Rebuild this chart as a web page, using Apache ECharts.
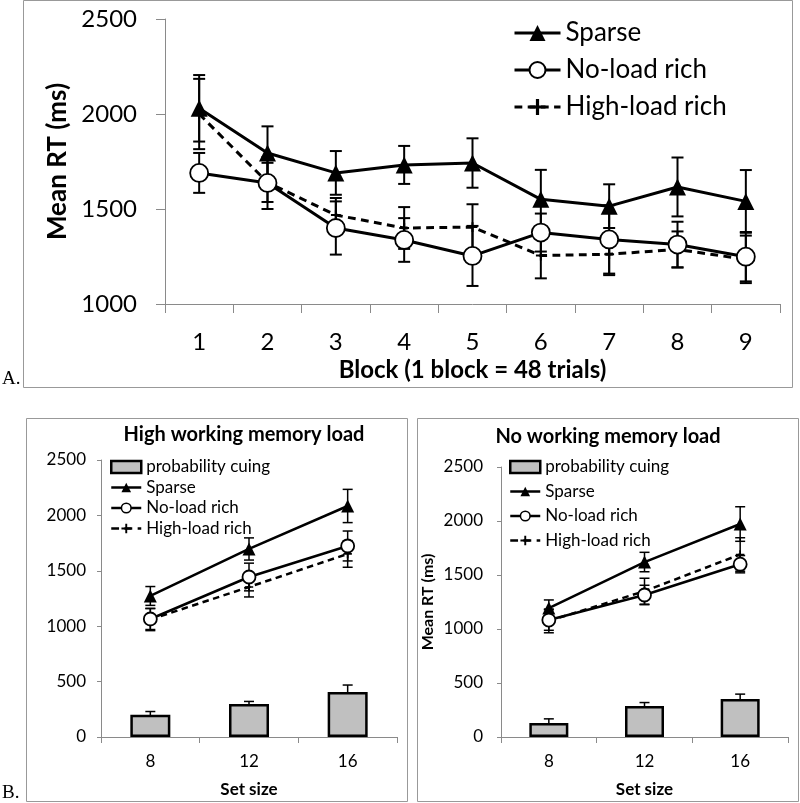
<!DOCTYPE html>
<html><head><meta charset="utf-8">
<script src="https://cdn.jsdelivr.net/npm/echarts@6/dist/echarts.min.js"></script>
<style>html,body{margin:0;padding:0;background:#fff}#c{width:800px;height:803px}</style>
</head><body><div id="c"></div>
<script>
// ---- Panel A data ----
const blocks = ['1','2','3','4','5','6','7','8','9'];
const sparseA = [2030, 1795, 1690, 1732, 1742, 1551, 1515, 1616, 1540];
const sparseAErr = [175, 140, 115, 100, 130, 155, 115, 155, 165];
const noLoadA = [1690, 1637, 1400, 1337, 1253, 1376, 1340, 1313, 1249];
const noLoadAErr = [105, 137, 140, 115, 158, 100, 180, 120, 130];
const highLoadA = [2000, 1640, 1468, 1400, 1405, 1255, 1262, 1287, 1235];
const highLoadAErr = [185, 103, 90, 110, 120, 120, 110, 95, 125];
const yTicksA = [1000, 1500, 2000, 2500];

// ---- Panel B data ----
const setSizes = ['8','12','16'];
const hiCuing = [200, 298, 406];
const hiCuingErr = [30, 23, 63];
const hiSparse = [1273, 1697, 2085];
const hiSparseErr = [85, 100, 150];
const hiNoLoad = [1065, 1444, 1724];
const hiNoLoadErr = [95, 125, 135];
const hiHighLoad = [1060, 1354, 1652];
const hiHighLoadErr = [100, 90, 120];

const noCuing = [130, 287, 352];
const noCuingErr = [38, 32, 45];
const noSparse = [1194, 1620, 1972];
const noSparseErr = [75, 90, 160];
const noNoLoad = [1083, 1315, 1600];
const noNoLoadErr = [95, 90, 80];
const noHighLoad = [1075, 1350, 1690];
const noHighLoadErr = [110, 120, 155];
const yTicksB = [0, 500, 1000, 1500, 2000, 2500];

const FONT = 'Lato';
const PLUS = 'path://M4,0H6V4H10V6H6V10H4V6H0V4H4Z';
const AXIS_GRAY = '#8a8a8a';

function errSeries(xi, vals, errs, capW, lw) {
  return {
    type: 'custom', xAxisIndex: xi, yAxisIndex: xi, z: 1, silent: true,
    data: vals.map((v, i) => [i, v - errs[i], v + errs[i]]),
    encode: { x: 0, y: [1, 2] },
    renderItem: function (params, api) {
      const lo = api.coord([api.value(0), api.value(1)]);
      const hi = api.coord([api.value(0), api.value(2)]);
      const st = { stroke: '#000', lineWidth: lw };
      return { type: 'group', children: [
        { type: 'line', shape: { x1: lo[0], y1: lo[1], x2: hi[0], y2: hi[1] }, style: st },
        { type: 'line', shape: { x1: lo[0] - capW, y1: lo[1], x2: lo[0] + capW, y2: lo[1] }, style: st },
        { type: 'line', shape: { x1: hi[0] - capW, y1: hi[1], x2: hi[0] + capW, y2: hi[1] }, style: st }
      ]};
    }
  };
}

function lineSeries(name, xi, vals, kind, lw, size) {
  const s = {
    name: name, type: 'line', xAxisIndex: xi, yAxisIndex: xi, z: 3, data: vals,
    lineStyle: { color: '#000', width: lw }, symbolSize: size
  };
  if (kind === 'tri') { s.symbol = 'triangle'; s.itemStyle = { color: '#000' }; }
  if (kind === 'circ') { s.symbol = 'circle'; s.itemStyle = { color: '#fff', borderColor: '#000', borderWidth: 1.8 }; s.z = 4; }
  if (kind === 'plus') { s.symbol = PLUS; s.symbolSize = size * 0.7; s.itemStyle = { color: '#000' }; s.lineStyle.type = [lw * 2.6, lw * 1.8]; }
  return s;
}

function xAxis(gi, data, fs, tickLen, margin, name, nameFs, nameGap) {
  return {
    gridIndex: gi, type: 'category', data: data, boundaryGap: true,
    axisLine: { show: true, lineStyle: { color: AXIS_GRAY, width: 1 } },
    axisTick: { show: true, length: tickLen, inside: false, alignWithLabel: false, lineStyle: { color: AXIS_GRAY } },
    axisLabel: { fontFamily: FONT, fontSize: fs, color: '#000', margin: margin },
    splitLine: { show: false },
    name: name, nameLocation: 'middle', nameGap: nameGap,
    nameTextStyle: { fontFamily: FONT, fontSize: nameFs, fontWeight: 'bold', color: '#000' }
  };
}
function yAxis(gi, min, max, interval, fs, tickLen, margin, name, nameFs, nameGap) {
  return {
    gridIndex: gi, type: 'value', min: min, max: max, interval: interval,
    axisLine: { show: true, lineStyle: { color: AXIS_GRAY, width: 1 } },
    axisTick: { show: true, length: tickLen, inside: false, lineStyle: { color: AXIS_GRAY } },
    axisLabel: { fontFamily: FONT, fontSize: fs, color: '#000', margin: margin, formatter: v => String(v) },
    splitLine: { show: false },
    name: name, nameLocation: 'middle', nameGap: nameGap, nameRotate: 90,
    nameTextStyle: { fontFamily: FONT, fontSize: nameFs, fontWeight: 'bold', color: '#000' }
  };
}

function legendB(left, top, gap) {
  return {
    orient: 'vertical', left: left, top: top, itemWidth: 30, itemHeight: 12, itemGap: gap,
    selectedMode: false, padding: 0,
    textStyle: { fontFamily: FONT, fontSize: 17, color: '#000', lineHeight: 18 },
    data: [
      { name: 'probability cuing', icon: 'rect', itemStyle: { color: '#c0c0c0', borderColor: '#000', borderWidth: 2.5 } },
      { name: 'Sparse', lineStyle: { width: 2.5 } },
      { name: 'No-load rich', lineStyle: { width: 2.5 }, itemStyle: { borderWidth: 1.5 } },
      { name: 'High-load rich', lineStyle: { width: 2.5 } }
    ]
  };
}

function barSeries(xi, vals, w) {
  return {
    name: 'probability cuing', type: 'bar', xAxisIndex: xi, yAxisIndex: xi, z: 2,
    data: vals, barWidth: w,
    itemStyle: { color: '#c0c0c0', borderColor: '#000', borderWidth: 2.5 }
  };
}

const chart = echarts.init(document.getElementById('c'), null, { renderer: 'canvas' });
chart.setOption({
  animation: false,
  backgroundColor: '#fff',
  grid: [
    { left: 165, top: 19, width: 615, height: 285, outerBoundsMode: 'none', containLabel: false },
    { left: 101, top: 460, width: 296, height: 277, outerBoundsMode: 'none', containLabel: false },
    { left: 501, top: 467, width: 287, height: 270, outerBoundsMode: 'none', containLabel: false }
  ],
  xAxis: [
    xAxis(0, blocks, 24, 9, 26, 'Block (1 block = 48 trials)', 24, 54),
    xAxis(1, setSizes, 17, 6, 16, 'Set size', 17, 44),
    xAxis(2, setSizes, 17, 6, 16, 'Set size', 17, 44)
  ],
  yAxis: [
    yAxis(0, yTicksA[0], yTicksA[yTicksA.length - 1], 500, 24, 9, 28, 'Mean RT (ms)', 26, 66),
    yAxis(1, yTicksB[0], yTicksB[yTicksB.length - 1], 500, 17, 4, 15, '', 16, 60),
    yAxis(2, yTicksB[0], yTicksB[yTicksB.length - 1], 500, 17, 4, 18, 'Mean RT (ms)', 16, 65)
  ],
  legend: [
    {
      orient: 'vertical', left: 513, top: 19, itemWidth: 46, itemHeight: 20, itemGap: 9,
      selectedMode: false, padding: 0,
      textStyle: { fontFamily: FONT, fontSize: 26, color: '#000', lineHeight: 28 },
      data: [
        { name: 'Sparse', lineStyle: { width: 3 } },
        { name: 'No-load rich', lineStyle: { width: 3 } },
        { name: 'High-load rich', lineStyle: { width: 3 } }
      ]
    },
    legendB(110, 458, 2.5),
    legendB(509, 458, 6.5)
  ],
  graphic: [
    { type: 'rect', shape: { x: 23.5, y: 0.5, width: 769, height: 387 }, style: { fill: 'none', stroke: '#999', lineWidth: 1 }, z: 0, silent: true },
    { type: 'rect', shape: { x: 26.5, y: 418.5, width: 381, height: 383 }, style: { fill: 'none', stroke: '#999', lineWidth: 1 }, z: 0, silent: true },
    { type: 'rect', shape: { x: 417.5, y: 418.5, width: 381, height: 383 }, style: { fill: 'none', stroke: '#999', lineWidth: 1 }, z: 0, silent: true },
    { type: 'text', x: 2, y: 389, style: { text: 'A.', font: '19px "Liberation Serif"', fill: '#000', textVerticalAlign: 'bottom' }, silent: true },
    { type: 'text', x: 2, y: 803, style: { text: 'B.', font: '19px "Liberation Serif"', fill: '#000', textVerticalAlign: 'bottom' }, silent: true },
    { type: 'text', x: 244, y: 435, style: { text: 'High working memory load', font: 'bold 20px Lato', fill: '#000', textAlign: 'center', textVerticalAlign: 'middle' }, silent: true },
    { type: 'text', x: 608, y: 437, style: { text: 'No working memory load', font: 'bold 20px Lato', fill: '#000', textAlign: 'center', textVerticalAlign: 'middle' }, silent: true }
  ],
  series: [
    lineSeries('Sparse', 0, sparseA, 'tri', 3, 17),
    lineSeries('No-load rich', 0, noLoadA, 'circ', 3, 18),
    lineSeries('High-load rich', 0, highLoadA, 'plus', 3, 14),
    errSeries(0, sparseA, sparseAErr, 6, 2),
    errSeries(0, noLoadA, noLoadAErr, 6, 2),
    errSeries(0, highLoadA, highLoadAErr, 6, 2),

    barSeries(1, hiCuing, 40),
    errSeries(1, hiCuing, hiCuingErr, 5, 1.5),
    lineSeries('Sparse', 1, hiSparse, 'tri', 2.5, 13),
    lineSeries('No-load rich', 1, hiNoLoad, 'circ', 2.5, 13),
    lineSeries('High-load rich', 1, hiHighLoad, 'plus', 2.5, 12),
    errSeries(1, hiSparse, hiSparseErr, 5, 1.5),
    errSeries(1, hiNoLoad, hiNoLoadErr, 5, 1.5),
    errSeries(1, hiHighLoad, hiHighLoadErr, 5, 1.5),

    barSeries(2, noCuing, 39),
    errSeries(2, noCuing, noCuingErr, 5, 1.5),
    lineSeries('Sparse', 2, noSparse, 'tri', 2.5, 13),
    lineSeries('No-load rich', 2, noNoLoad, 'circ', 2.5, 13),
    lineSeries('High-load rich', 2, noHighLoad, 'plus', 2.5, 12),
    errSeries(2, noSparse, noSparseErr, 5, 1.5),
    errSeries(2, noNoLoad, noNoLoadErr, 5, 1.5),
    errSeries(2, noHighLoad, noHighLoadErr, 5, 1.5)
  ]
});
</script>
</body></html>
